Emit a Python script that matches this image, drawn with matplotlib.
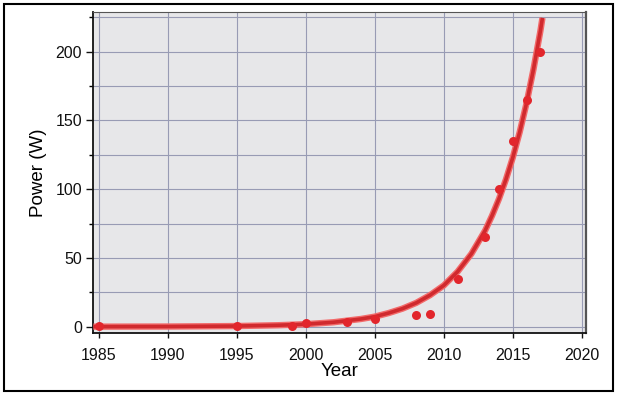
import matplotlib
matplotlib.use("Agg")
import matplotlib.pyplot as plt
from matplotlib.patches import Rectangle
from matplotlib.ticker import MultipleLocator

plt.rcParams["font.family"] = ["Liberation Sans", "DejaVu Sans"]

# measured points
years = [1985, 1995, 1999, 2000, 2003, 2005, 2008, 2009, 2011, 2013, 2014, 2015, 2016, 2017]
power = [0.3, 0.8, 0.5, 2.5, 3.5, 5.6, 8.5, 9.5, 34.5, 65, 100, 135, 165, 200]

# exponential trend line
fit_years = [1984.6, 1990, 1995, 1998, 2000, 2002, 2004, 2005, 2006, 2007, 2008, 2009,
             2010, 2011, 2012, 2013, 2013.5, 2014, 2014.5, 2015, 2015.5, 2016, 2016.5,
             2017, 2017.15]
fit_power = [0.0, 0.1, 0.45, 1.05, 1.8, 3.2, 5.6, 7.3, 9.9, 13.1, 17.3, 22.9,
             30.0, 40.0, 53.0, 70.0, 80.8, 93.0, 107.0, 123.0, 141.5, 162.7, 187.2,
             215.0, 224.6]

x_ticks = [1985, 1990, 1995, 2000, 2005, 2010, 2015, 2020]
y_ticks = [0, 50, 100, 150, 200]

RED, HALO = "#d02a2e", "#f26a6a"

fig = plt.figure(figsize=(6.2, 3.95), dpi=100)
ax = fig.add_axes([0.15, 0.157, 0.795, 0.813])
ax.set_facecolor("#e7e7e9")

ax.plot(fit_years, fit_power, color=HALO, lw=4.6, solid_capstyle="butt", zorder=3)
ax.plot(fit_years, fit_power, color=RED, lw=2.6, solid_capstyle="butt", zorder=4)
ax.plot(years, power, "o", color="#e2262c", ms=6.5, mec="none", zorder=5)

ax.set_xlim(1984.57, 2020.3)
ax.set_ylim(-4.6, 229)
ax.set_xticks(x_ticks)
ax.set_yticks(y_ticks)
ax.yaxis.set_minor_locator(MultipleLocator(25))
ax.grid(True, which="both", color="#989bb4", lw=0.8)
ax.set_axisbelow(True)

ax.tick_params(axis="both", labelsize=11.5, colors="#111111")
ax.tick_params(axis="y", which="major", length=5, width=1, pad=3)
ax.tick_params(axis="y", which="minor", length=3, width=1)
ax.tick_params(axis="x", length=3.5, width=1, pad=7)

ax.spines["left"].set_color("#111111")
ax.spines["bottom"].set_color("#111111")
ax.spines["left"].set_linewidth(1.3)
ax.spines["bottom"].set_linewidth(1.3)
ax.spines["top"].set_color("#555555")
ax.spines["right"].set_color("#555555")
ax.spines["right"].set_linewidth(1.6)

ax.set_xlabel("Year", fontsize=13.5, labelpad=0)
ax.set_ylabel("Power (W)", fontsize=13.5, labelpad=6)

# black frame around the picture
fig.patches.append(Rectangle((4 / 620, 4 / 395), 609 / 620, 387 / 395,
                             transform=fig.transFigure, fill=False,
                             edgecolor="black", lw=1.5))

fig.savefig("out.png", dpi=100)
